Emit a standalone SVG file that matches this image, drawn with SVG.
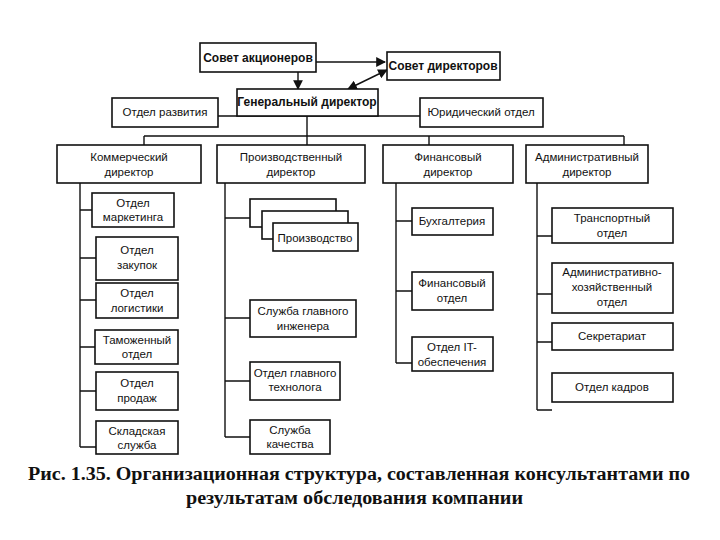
<svg xmlns="http://www.w3.org/2000/svg" width="720" height="540" viewBox="0 0 720 540">
<defs>
<marker id="ah" viewBox="0 0 10 10" refX="9" refY="5" markerWidth="7" markerHeight="7" orient="auto-start-reverse"><path d="M0,0L10,5L0,10z" fill="#111"/></marker>
<style>
rect{fill:#fff;stroke:#111;stroke-width:1.6}
text{font-family:"Liberation Sans",Arial,sans-serif;font-size:11.5px;fill:#111;text-anchor:middle}
.b{font-weight:bold;font-size:12px}
.c{font-family:"Liberation Serif","Times New Roman",serif;font-weight:bold;font-size:18px;text-anchor:start}
#conn path{fill:none;stroke:#111;stroke-width:1.4}
</style>
</defs>
<rect x="0" y="0" width="720" height="540" style="stroke:none"/>
<g id="conn">
<path d="M316,62H385" marker-end="url(#ah)"/>
<path d="M298,72V89" marker-end="url(#ah)"/>
<path d="M348,89L387,70" marker-start="url(#ah)" marker-end="url(#ah)"/>
<path d="M218,116H420M307,116V136M144,136H624M144,136V145M307,136V145M429,136V145M624,136V145"/>
<path d="M80,183V447M80,210H92M80,258H96M80,300H96M80,347H96M80,391H96M80,447H96"/>
<path d="M225,183V437M225,218H250M225,318H250M225,381H250M225,437H250"/>
<path d="M396,183V363M396,221H412M396,291H412M396,363H412"/>
<path d="M537,183V410M537,236H552M537,294H552M537,342H552M537,410H552"/>
</g>
<g id="n-sa"><rect x="200" y="43" width="116" height="29"/><text class="b" x="258" y="62">Совет акционеров</text></g>
<g id="n-sd"><rect x="387" y="52" width="113" height="28"/><text class="b" x="443" y="70">Совет директоров</text></g>
<g id="n-gd"><rect x="237" y="89" width="141" height="27"/><text class="b" x="307" y="106">Генеральный директор</text></g>
<g id="n-razv"><rect x="112" y="98" width="106" height="29"/><text x="165" y="116">Отдел развития</text></g>
<g id="n-jur"><rect x="420" y="98" width="123" height="29"/><text x="481" y="116">Юридический отдел</text></g>
<g id="n-kom"><rect x="57" y="145" width="144" height="38"/><text x="129" y="161">Коммерческий</text><text x="129" y="176">директор</text></g>
<g id="n-pro"><rect x="217" y="145" width="148" height="38"/><text x="291" y="161">Производственный</text><text x="291" y="176">директор</text></g>
<g id="n-fin"><rect x="383" y="145" width="130" height="38"/><text x="448" y="161">Финансовый</text><text x="448" y="176">директор</text></g>
<g id="n-adm"><rect x="526" y="145" width="122" height="38"/><text x="587" y="161">Административный</text><text x="587" y="176">директор</text></g>
<g id="n-mark"><rect x="92" y="193" width="82" height="34"/><text x="133" y="207">Отдел</text><text x="133" y="221">маркетинга</text></g>
<g id="n-zak"><rect x="96" y="237" width="82" height="43"/><text x="137" y="254">Отдел</text><text x="137" y="269">закупок</text></g>
<g id="n-log"><rect x="96" y="283" width="82" height="35"/><text x="137" y="297">Отдел</text><text x="137" y="312">логистики</text></g>
<g id="n-tam"><rect x="95" y="330" width="83" height="34"/><text x="137" y="344">Таможенный</text><text x="137" y="358">отдел</text></g>
<g id="n-prod"><rect x="96" y="372" width="82" height="38"/><text x="137" y="387">Отдел</text><text x="137" y="402">продаж</text></g>
<g id="n-skl"><rect x="96" y="421" width="82" height="33"/><text x="137" y="435">Складская</text><text x="137" y="449">служба</text></g>
<g id="n-proizv"><rect x="250" y="199" width="86" height="28"/><rect x="262" y="211" width="86" height="28"/><rect x="273" y="223" width="85" height="28"/><text x="315" y="242">Производство</text></g>
<g id="n-ing"><rect x="250" y="300" width="106" height="37"/><text x="303" y="315">Служба главного</text><text x="303" y="330">инженера</text></g>
<g id="n-teh"><rect x="250" y="362" width="90" height="38"/><text x="295" y="377">Отдел главного</text><text x="295" y="391">технолога</text></g>
<g id="n-kach"><rect x="250" y="420" width="80" height="34"/><text x="290" y="434">Служба</text><text x="290" y="448">качества</text></g>
<g id="n-buh"><rect x="412" y="208" width="81" height="27"/><text x="452" y="225">Бухгалтерия</text></g>
<g id="n-fo"><rect x="412" y="272" width="81" height="38"/><text x="452" y="287">Финансовый</text><text x="452" y="302">отдел</text></g>
<g id="n-it"><rect x="412" y="337" width="81" height="34"/><text x="452" y="351">Отдел IT-</text><text x="452" y="366">обеспечения</text></g>
<g id="n-tr"><rect x="552" y="208" width="121" height="35"/><text x="612" y="222">Транспортный</text><text x="612" y="237">отдел</text></g>
<g id="n-aho"><rect x="552" y="263" width="121" height="50"/><text x="612" y="276">Административно-</text><text x="612" y="291">хозяйственный</text><text x="612" y="306">отдел</text></g>
<g id="n-sek"><rect x="552" y="323" width="121" height="27"/><text x="612" y="340">Секретариат</text></g>
<g id="n-kad"><rect x="552" y="373" width="121" height="29"/><text x="612" y="391">Отдел кадров</text></g>
<text class="c" x="28" y="480" textLength="662" lengthAdjust="spacingAndGlyphs">Рис. 1.35. Организационная структура, составленная консультантами по</text>
<text class="c" x="186" y="504" textLength="337" lengthAdjust="spacingAndGlyphs">результатам обследования компании</text>
</svg>
